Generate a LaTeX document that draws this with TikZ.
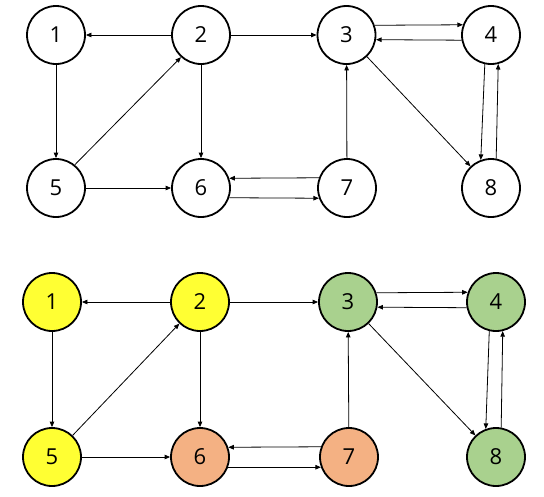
\documentclass[tikz,border=0pt]{standalone}
\usepackage{fontspec}
\setmainfont{Open Sans}
\usetikzlibrary{arrows.meta}
\definecolor{yel}{HTML}{FFFF33}
\definecolor{grn}{HTML}{A9D18E}
\definecolor{org}{HTML}{F4B183}
\begin{document}
\begin{tikzpicture}[x=1pt,y=-1pt,
  vtx/.style={circle,draw=black,line width=1.8pt,minimum size=58pt,inner sep=0pt,font=\fontsize{22}{24}\selectfont},
  arr/.style={-{Triangle[length=5.5pt,width=4.5pt]},line width=0.8pt,draw=black}]
\useasboundingbox (0,0) rectangle (544,496);
% top graph
\node[vtx] (t1) at (56,35) {1};
\node[vtx] (t2) at (201,35) {2};
\node[vtx] (t3) at (346.5,35) {3};
\node[vtx] (t4) at (491,35) {4};
\node[vtx] (t5) at (56,188) {5};
\node[vtx] (t6) at (201,188) {6};
\node[vtx] (t7) at (347,188) {7};
\node[vtx] (t8) at (491,188) {8};
\draw[arr] (t2) -- (t1);
\draw[arr] (t2) -- (t3);
\draw[arr] (t3.19.5) -- (t4.160.5);
\draw[arr] (t4.-170.4) -- (t3.-9.6);
\draw[arr] (t1) -- (t5);
\draw[arr] (t2) -- (t6);
\draw[arr] (t5.51) -- (t2.-132);
\draw[arr] (t5) -- (t6);
\draw[arr] (t7.160.5) -- (t6.19.5);
\draw[arr] (t6.-19.5) -- (t7.-160.5);
\draw[arr] (t7) -- (t3);
\draw[arr] (t3) -- (t8);
\draw[arr] (t4.-102.5) -- (t8.110);
\draw[arr] (t8.80.7) -- (t4.-76);
% bottom graph
\node[vtx,fill=yel] (b1) at (52,302) {1};
\node[vtx,fill=yel] (b2) at (200,302) {2};
\node[vtx,fill=grn] (b3) at (348,302) {3};
\node[vtx,fill=grn] (b4) at (496,302) {4};
\node[vtx,fill=yel] (b5) at (52,457) {5};
\node[vtx,fill=org] (b6) at (200,457) {6};
\node[vtx,fill=org] (b7) at (349,457) {7};
\node[vtx,fill=grn] (b8) at (496,457) {8};
\draw[arr] (b2) -- (b1);
\draw[arr] (b2) -- (b3);
\draw[arr] (b3.18.5) -- (b4.161.5);
\draw[arr] (b4.-169.2) -- (b3.-10.8);
\draw[arr] (b1) -- (b5);
\draw[arr] (b2) -- (b6);
\draw[arr] (b5) -- (b2);
\draw[arr] (b5) -- (b6);
\draw[arr] (b7.160.5) -- (b6.19.5);
\draw[arr] (b6.-20) -- (b7.-160);
\draw[arr] (b7) -- (b3);
\draw[arr] (b3) -- (b8);
\draw[arr] (b4.-103) -- (b8.110);
\draw[arr] (b8.80) -- (b4.-77);
\end{tikzpicture}
\end{document}
